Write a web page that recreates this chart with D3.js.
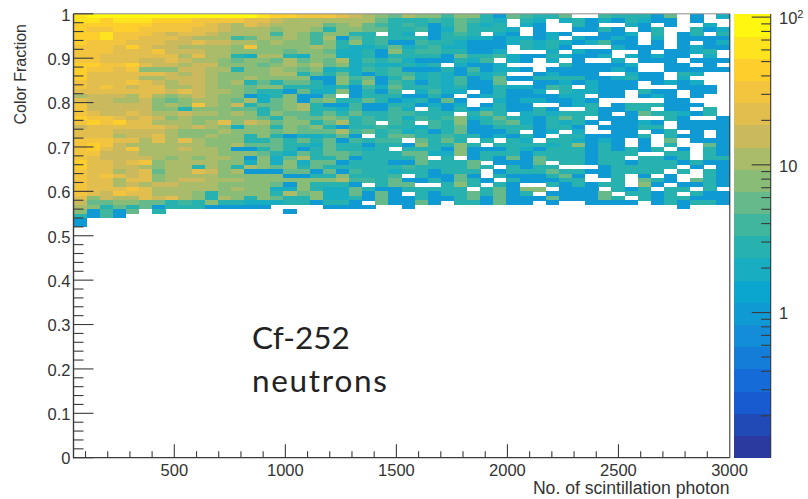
<!DOCTYPE html>
<html><head><meta charset="utf-8"><style>html,body{margin:0;background:#fff}svg{display:block}text{font-family:"Liberation Sans",Arial,sans-serif;fill:#333}</style>
<script src="https://cdn.jsdelivr.net/npm/d3@7"></script></head><body><script>
const xTickLabels=[500,1000,1500,2000,2500,3000];
const yTickLabels=[0,0.1,0.2,0.3,0.4,0.5,0.6,0.7,0.8,0.9,1];
const birdStops=[0,.125,.25,.375,.5,.625,.75,.875,1];
const birdColors=["#2a3a9e","#1560d8","#148ad8","#0aa8cf","#2fb5a8","#85bc78","#d3b95a","#fec832","#fff70f"];
// counts per row (top row = 0.99–1.00), columns 1–25
const countsLeft=[
[60,90,90,90,90,90,90,90,90,90,90,80,80,80,60,45,45,30,30,30,20,15,10,9,6],
[60,70,45,55,70,70,45,40,40,35,30,35,30,20,25,14,12,12,12,10,10,10,12,6,3],
[50,50,40,40,50,50,35,30,35,30,25,15,12,20,15,12,12,12,10,5,7,10,6,4,3],
[40,35,30,40,40,30,35,30,35,25,20,15,12,12,12,8,12,10,8,3,8,7,5,5,3],
[40,45,55,30,30,30,20,15,25,25,15,12,12,10,10,4,10,8,4,8,7,3,3,0,3],
[40,45,55,30,30,25,22,20,15,12,12,10,4,5,10,8,10,7,4,10,1,6,3,4,3],
[40,30,30,30,25,22,25,15,15,22,18,15,10,10,8,10,8,7,4,8,3,8,3,4,1],
[35,30,35,25,40,22,15,15,12,12,10,10,8,30,9,8,8,8,10,7,3,2,2,3,6],
[35,30,30,25,20,20,30,14,15,14,10,10,7,9,8,8,5,7,9,5,2,2,3,1,8],
[35,35,25,20,20,20,25,20,12,25,12,10,3,2,10,10,3,2,8,7,2,2,3,1,3],
[35,30,25,25,25,18,14,20,14,12,10,8,5,9,7,5,10,5,7,5,10,2,4,3,4],
[45,45,35,30,40,20,18,15,12,15,14,8,7,8,5,7,10,8,10,5,8,2,3,2,2],
[40,30,35,20,30,7,8,7,15,14,12,10,3,8,8,12,9,5,8,2,3,2,4,3,4],
[40,25,20,25,25,20,20,18,12,15,12,8,7,8,8,12,10,3,5,3,5,2,1,3,4],
[40,25,20,25,25,10,10,15,18,14,10,7,7,12,7,8,7,8,1,1,7,4,6,1,3],
[35,25,20,25,35,20,15,10,15,15,12,7,12,3,5,3,5,5,3,1,8,3,8,1,4],
[35,25,30,20,15,20,20,10,12,14,12,8,7,5,7,8,3,3,3,2,3,1,4,2,5],
[20,25,20,20,22,22,20,18,20,14,12,10,7,5,3,3,1,5,2,2,8,1,3,1,4],
[12,18,15,15,12,25,10,8,12,14,12,7,7,1,2,3,7,1,1,5,0,1,3,3,3],
[25,18,15,12,12,18,8,5,8,10,10,7,5,10,2,5,8,1,5,7,3,3,5,3,1],
[30,15,15,15,14,14,9,10,9,30,12,8,18,3,5,5,8,10,3,1,1,4,1,1,3],
[30,15,15,15,14,14,9,9,3,9,9,7,5,5,3,5,8,10,3,3,2,4,1,1,4],
[30,20,18,15,20,18,10,12,14,12,12,8,10,7,3,7,5,5,3,5,3,5,3,3,4],
[40,35,30,25,15,20,15,8,10,7,9,8,7,9,5,3,7,5,5,7,5,3,4,3,4],
[30,40,35,40,20,20,12,10,10,8,10,25,8,15,10,5,7,7,3,5,12,3,4,0,4],
[18,20,20,20,25,25,25,15,12,15,12,8,2,8,8,3,8,5,7,3,1,3,3,4,3],
[25,20,20,15,14,14,14,10,8,9,9,10,9,8,7,5,7,5,5,5,10,4,5,3,4],
[25,25,25,12,14,15,20,10,8,8,10,8,7,3,8,3,1,2,2,3,5,1,0,3,5],
[35,35,35,20,25,12,25,12,20,12,9,9,8,3,3,5,3,5,3,5,1,4,3,4,4],
[35,40,35,15,12,12,12,12,12,10,9,8,10,5,5,5,3,3,2,5,3,3,1,3,3],
[35,40,25,15,30,12,10,12,15,10,10,9,1,1,3,5,3,1,3,5,3,3,2,3,0],
[30,30,15,15,15,12,10,10,12,10,10,9,8,8,5,3,2,5,3,5,5,4,3,3,3],
[30,25,15,15,15,14,12,8,10,8,12,10,8,1,8,2,5,10,3,3,5,1,3,3,3],
[40,20,20,15,20,30,7,10,10,10,10,7,8,2,7,2,8,2,5,5,1,3,3,3,1],
[40,20,25,15,15,12,7,10,12,3,12,7,3,12,8,5,8,3,5,3,3,3,3,3,3],
[30,20,25,12,15,20,5,10,10,25,15,8,12,1,1,1,5,5,1,5,1,4,3,3,2],
[30,20,30,20,15,20,7,10,12,12,12,8,7,8,7,7,1,1,3,3,7,3,3,3,4],
[30,20,20,10,20,20,7,10,15,14,12,10,10,8,8,8,8,7,8,7,10,4,4,3,6],
[30,25,20,10,15,12,14,18,10,10,10,8,8,8,7,5,1,7,3,3,3,1,0,3,5],
[30,25,25,20,30,20,10,10,10,10,10,7,10,8,8,2,2,7,3,2,2,5,3,1,1],
[35,20,15,30,20,20,10,12,10,8,3,7,8,8,8,3,10,5,7,2,2,5,1,6,1],
[25,8,15,10,12,20,14,20,10,8,3,12,8,3,8,5,3,3,7,2,2,3,1,6,1],
[15,5,6,8,8,5,6,3,4,3,8,3,3,2,2,2,3,3,1,3,3,1,0,6,1],
[10,8,3,5,3,5,1,3,3,3,1,1,1,1,1,0,0,0,0,1,1,1,1,0,0],
[8,1,4,1,5,0,3,0,0,0,0,0,0,0,0,0,1],
[3,1,4,1],
[1],
[1]];
// columns 26–50
const countsRight=[
[10,9,8,4,7,7,3,1,5,4,3,3,5,0,0,4,3,3,3,1,5,0,1,0,2],
[3,3,4,3,5,4,3,2,0,3,2,0,2,3,1,2,1,3,2,1,1,0,1,0,0],
[4,3,1,3,6,3,2,3,0,2,1,0,0,3,1,0,0,2,1,0,1,0,0,2,0],
[3,4,1,2,6,3,3,3,2,0,1,0,0,1,1,3,1,0,1,3,0,0,3,1,2],
[2,0,1,3,4,3,0,2,1,0,1,2,1,0,0,1,1,2,0,3,0,1,3,0,3],
[3,3,1,3,3,2,2,1,2,2,1,2,0,2,1,1,2,1,0,2,0,1,1,1,1],
[1,4,3,3,2,1,1,1,2,3,2,3,2,1,2,4,1,1,0,1,0,1,0,1,2],
[2,3,4,2,2,1,1,1,0,3,2,3,1,0,0,0,2,1,1,1,0,1,2,1,1],
[3,4,4,3,3,1,1,2,0,0,0,2,0,2,1,1,0,0,1,0,1,1,2,3,0],
[3,3,3,1,5,3,3,4,2,1,1,3,2,1,1,2,0,2,1,2,1,1,0,2,0],
[2,1,1,1,3,2,4,0,2,1,0,2,0,1,0,0,2,0,1,1,1,0,1,1,1],
[3,2,3,0,2,1,1,2,0,0,0,0,3,1,1,1,1,2,0,0,1,1,0,1,0],
[1,1,1,3,1,4,1,2,2,1,0,1,1,1,1,1,2,1,0,0,1,1,1,1,1],
[4,2,3,2,1,3,2,3,0,0,1,2,1,1,1,0,0,2,1,1,0,3,2,0,0],
[5,2,3,2,4,1,2,6,1,1,3,3,3,3,1,1,2,3,1,1,0,2,0,0,0],
[3,1,3,2,4,1,1,6,0,0,1,1,2,1,2,1,1,1,0,1,2,1,2,0,0],
[3,3,3,2,3,1,1,3,2,2,1,4,3,0,2,1,1,1,0,0,0,1,1,1,0],
[0,2,4,2,2,0,1,3,1,1,2,0,3,2,2,1,1,0,3,1,1,0,1,1,0],
[1,1,3,1,0,1,2,3,1,1,1,1,2,2,0,1,1,0,1,2,1,0,1,0,0],
[2,3,1,6,1,0,0,2,1,2,2,1,1,2,1,0,0,0,0,0,1,1,0,0,0],
[3,1,2,1,2,0,1,3,1,1,0,0,1,2,3,0,1,3,3,3,1,1,1,0,0],
[2,0,3,1,3,1,2,3,1,1,3,1,0,0,3,1,1,3,3,0,1,1,0,3,0],
[4,3,3,3,0,3,6,3,0,2,3,2,3,3,3,1,0,1,6,3,3,2,1,3,0],
[2,4,3,4,7,2,3,5,3,2,1,3,5,3,0,1,1,1,0,0,3,1,0,0,1],
[3,0,4,3,7,1,3,4,5,2,1,3,2,3,1,0,1,1,2,1,0,1,1,1,1],
[3,2,4,3,5,1,1,3,3,3,1,3,3,1,0,1,1,1,3,3,0,1,1,1,1],
[2,3,1,3,5,1,1,1,3,0,1,2,0,2,0,0,1,1,0,1,3,0,1,0,1],
[5,3,3,4,3,3,1,2,1,3,1,0,3,3,1,1,1,1,3,0,3,1,1,0,1],
[0,6,3,6,3,0,3,0,3,2,0,3,3,2,1,2,1,0,1,0,5,0,1,1,1],
[1,8,3,3,8,3,0,3,3,3,3,2,3,8,1,3,1,0,1,0,3,0,0,5,1],
[3,3,3,1,7,1,1,1,3,2,1,3,3,3,1,3,1,3,1,3,0,1,0,3,1],
[5,5,2,2,8,1,3,3,3,1,3,3,3,3,1,3,3,3,0,0,3,3,0,3,1],
[3,5,0,3,0,1,3,1,5,1,5,3,3,3,1,3,3,0,3,3,1,3,0,3,3],
[1,5,3,3,3,5,0,1,1,1,5,0,3,3,1,3,3,1,3,3,3,1,3,1,1],
[4,3,3,3,3,5,3,0,3,1,3,3,0,0,0,1,3,3,3,3,3,0,1,0,1],
[3,3,1,3,3,3,0,1,3,3,3,5,3,3,1,1,3,3,3,3,0,3,0,3,1],
[0,3,1,1,5,1,0,3,1,1,1,3,5,1,0,1,3,0,1,0,1,0,0,3,1],
[1,1,3,1,5,3,1,0,3,1,1,1,3,3,0,0,3,0,6,3,1,0,6,3,1],
[6,0,0,3,8,3,0,3,1,0,0,3,1,3,1,3,3,0,8,1,0,1,1,3,1],
[3,3,3,3,3,0,3,5,1,8,8,0,1,1,1,0,3,1,3,0,3,3,0,3,0],
[0,3,1,3,3,6,3,5,1,3,0,1,1,1,1,5,0,3,3,1,3,0,3,1,1],
[1,3,1,1,3,6,1,5,1,1,1,5,1,1,1,5,3,0,3,1,3,3,1,1,1],
[1,6,1,0,3,3,1,5,1,1,0,1,0,0,1,1,1,1,0,1,3,1,3,3,1],
[1,0,0,0,0,0,0,0,0,0,0,0,0,0,0,0,0,0,0,0,0,1,0,0,0]];
const zMinorTicks=[.2,.3,.4,.5,.6,.7,.8,.9,2,3,4,5,6,7,8,9,20,30,40,50,60,70,80,90];
const W=808,H=499,bandCount=20,xBins=50,xFirst=46,xLast=3000,yBinW=.01;
const svg=d3.select("body").append("svg").attr("width",W).attr("height",H);
const x=d3.scaleLinear().domain([xFirst,xLast]).range([73.5,729.5]);
const y=d3.scaleLinear().domain([0,1]).range([457.7,13.8]);
const z=d3.scaleLog().domain([.104,105]).range([457.7,14]);
const bird=d3.scaleLinear().domain(birdStops).range(birdColors).interpolate(d3.interpolateRgb);
const band=d3.range(bandCount).map(i=>bird(i/(bandCount-1)));
const zIndex=d3.scaleLog().domain(z.domain()).range([0,bandCount]);
const colorOf=v=>band[Math.min(bandCount-1,Math.floor(zIndex(v)))];
const binW=(xLast-xFirst)/xBins;
const cells=[];
countsLeft.forEach((row,r)=>{
  const all=row.concat(d3.range(25-row.length).map(()=>0),countsRight[r]||[]);
  all.forEach((v,c)=>{if(v>0)cells.push({r,c,v});});
});
svg.append("g").attr("shape-rendering","crispEdges").selectAll("rect").data(cells).join("rect")
 .attr("x",d=>x(xFirst+d.c*binW)).attr("width",x(xFirst+binW)-x(xFirst)+.3)
 .attr("y",d=>y(1-d.r*yBinW)).attr("height",y(0)-y(yBinW)+.3)
 .attr("fill",d=>colorOf(d.v));
// palette
const palH=(z.range()[0]-z.range()[1])/bandCount;
svg.append("g").attr("shape-rendering","crispEdges").selectAll("rect").data(band).join("rect")
 .attr("x",733.7).attr("width",37).attr("y",(d,i)=>z.range()[0]-(i+1)*palH).attr("height",palH+.4).attr("fill",d=>d);
const axisCol="#3a3a3a";
function line(x1,y1,x2,y2,w=1.1,c=axisCol){svg.append("line").attr("x1",x1).attr("y1",y1).attr("x2",x2).attr("y2",y2).attr("stroke",c).attr("stroke-width",w);}
// frame
line(73.5,y(1),729.8,y(1),1,"#8a8a8a");
line(729.8,y(1),729.8,y(0),1.1);
line(73.5,y(1),73.5,y(0)+.5,1.4);
line(73,y(0),729.8,y(0),1.2);
// y ticks
d3.range(0,51).forEach(i=>{const v=i/50,maj=i%5===0;line(73.5,y(v),73.5+(maj?20:10),y(v));});
// x ticks
d3.range(100,3000,100).forEach(v=>{line(x(v),y(0),x(v),y(0)-(v%500===0?13.5:6.5));});
const fs=16.5;
yTickLabels.forEach(v=>svg.append("text").attr("x",70.5).attr("y",y(v)+1).attr("dy",".35em").attr("text-anchor","end").attr("font-size",fs).text(d3.format("~g")(v)));
xTickLabels.forEach(v=>svg.append("text").attr("x",x(v)).attr("y",476).attr("text-anchor","middle").attr("font-size",fs).text(v));
svg.append("text").attr("x",729.5).attr("y",494).attr("text-anchor","end").attr("font-size",17.6).text("No. of scintillation photon");
svg.append("text").attr("transform","translate(26,24) rotate(-90)").attr("text-anchor","end").attr("font-size",16).text("Color Fraction");
// colour bar axis
[1,10,100].forEach(v=>line(770.7,z(v),770.7-19,z(v)));
zMinorTicks.forEach(v=>line(770.7,z(v),770.7-9.5,z(v)));
line(770.7,14,770.7,457.7,1.1);
const t=svg.append("text").attr("x",779).attr("y",24).attr("font-size",fs);
t.append("tspan").text("10");t.append("tspan").attr("dy",-6).attr("font-size",11).text("2");
svg.append("text").attr("x",779).attr("y",z(10)+1).attr("dy",".35em").attr("font-size",fs).text("10");
svg.append("text").attr("x",779).attr("y",z(1)+1).attr("dy",".35em").attr("font-size",fs).text("1");
// annotation
[["Cf-252",349,0],["neutrons",392,1.7]].forEach(([s,b,ls])=>svg.append("text").attr("x",252).attr("y",b).attr("font-size",31.5).style("letter-spacing",ls+"px").style("font-family","Lato,Carlito,sans-serif").style("fill","#222").text(s));
</script></body></html>
